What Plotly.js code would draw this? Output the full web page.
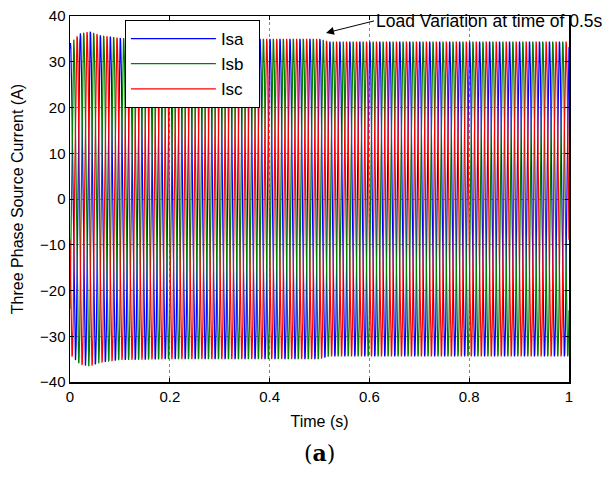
<!DOCTYPE html>
<html>
<head>
<meta charset="utf-8">
<script src="https://cdn.plot.ly/plotly-3.0.1.min.js"></script>
<style>html,body{margin:0;padding:0;background:#fff}#chart{width:614px;height:482px}</style>
</head>
<body>
<div id="chart"></div>
<script>
// Values
const seriesNames = ["Isa", "Isb", "Isc"];
const seriesColors = ["#0000ff", "#008000", "#ff0000"];
const supplyFrequencyHz = 50;               // ~5 cycles per 0.1 s per phase
const phaseAnglesDeg = [75, -45, 195];      // phase at t = 0 (Isa near +34, Isc near +15, Isb near -30)
// peak current envelope (A) read at these times (s)
const envelopeTimes = [0.00, 0.02, 0.04, 0.06, 0.10, 0.20, 0.30, 0.40, 0.50, 0.52, 0.60, 0.80, 1.00];
const envelopeAmps  = [34.0, 36.2, 36.6, 35.8, 35.2, 35.0, 35.0, 35.0, 35.0, 34.4, 34.4, 34.4, 34.4];
const xTickVals = [0, 0.2, 0.4, 0.6, 0.8, 1];
const xTickText = ["0", "0.2", "0.4", "0.6", "0.8", "1"];
const yTickVals = [-40, -30, -20, -10, 0, 10, 20, 30, 40];
const annotationText = "Load Variation at time of 0.5s";
const annotationPoint = [0.513, 36.3];
const sampleStep = 0.0001;

function envelopeAt(t) {
  for (let i = 1; i < envelopeTimes.length; i++) {
    if (t <= envelopeTimes[i]) {
      const t0 = envelopeTimes[i - 1], t1 = envelopeTimes[i];
      const f = (t - t0) / (t1 - t0);
      return envelopeAmps[i - 1] + f * (envelopeAmps[i] - envelopeAmps[i - 1]);
    }
  }
  return envelopeAmps[envelopeAmps.length - 1];
}

const times = [];
for (let k = 0; k <= Math.round(1 / sampleStep); k++) times.push(k * sampleStep);

const traces = seriesNames.map((name, p) => ({
  type: "scatter",
  mode: "lines",
  name: name + "\u00a0\u00a0",
  legendgroup: name,
  x: times,
  y: times.map(t => envelopeAt(t) * Math.sin(2 * Math.PI * supplyFrequencyHz * t + phaseAnglesDeg[p] * Math.PI / 180)),
  line: { color: seriesColors[p], width: 1.2 },
  hoverinfo: "skip"
}));

const tickFont = { family: "Liberation Sans, Arial, sans-serif", size: 15, color: "#000" };
const titleFont = { family: "Liberation Sans, Arial, sans-serif", size: 16, color: "#000" };

const layout = {
  width: 614, height: 482,
  margin: { l: 70, r: 45, t: 16, b: 100 },
  paper_bgcolor: "#fff", plot_bgcolor: "#fff",
  font: tickFont,
  showlegend: true,
  legend: {
    x: 0.11, y: 0.989, xanchor: "left", yanchor: "top",
    bgcolor: "#fff", bordercolor: "#000", borderwidth: 1,
    font: { family: "Liberation Sans, Arial, sans-serif", size: 17, color: "#000" },
    itemwidth: 85, tracegroupgap: 0, traceorder: "grouped"
  },
  xaxis: {
    range: [0, 1], tickvals: xTickVals, ticktext: xTickText,
    ticks: "inside", ticklen: 4, tickcolor: "#000", mirror: "ticks",
    showline: true, linecolor: "#000", linewidth: 1.5,
    showgrid: true, gridcolor: "#888", griddash: "dot", gridwidth: 1,
    zeroline: false, tickfont: tickFont,
    title: { text: "Time (s)", font: titleFont, standoff: 12 }
  },
  yaxis: {
    range: [-40, 40], tickvals: yTickVals,
    ticks: "inside", ticklen: 4, tickcolor: "#000", mirror: "ticks",
    showline: true, linecolor: "#000", linewidth: 1.5,
    showgrid: true, gridcolor: "#888", griddash: "dot", gridwidth: 1,
    zeroline: false, tickfont: tickFont,
    title: { text: "Three Phase Source Current (A)", font: titleFont, standoff: 12 }
  },
  annotations: [
    {
      x: annotationPoint[0], y: annotationPoint[1], xref: "x", yref: "y",
      text: annotationText, showarrow: true, ax: 48, ay: -12,
      xanchor: "left", yanchor: "middle",
      arrowhead: 2, arrowsize: 1.6, arrowwidth: 1, arrowcolor: "#000",
      font: { family: "Liberation Sans, Arial, sans-serif", size: 17.5, color: "#000" }
    },
    {
      x: 0.5, y: -0.195, xref: "paper", yref: "paper", showarrow: false,
      text: "(<b>a</b>)", xanchor: "center", yanchor: "middle",
      font: { family: "DejaVu Serif, serif", size: 22, color: "#000" }
    }
  ]
};

Plotly.newPlot("chart", traces, layout, { staticPlot: true, displayModeBar: false });
</script>
</body>
</html>
